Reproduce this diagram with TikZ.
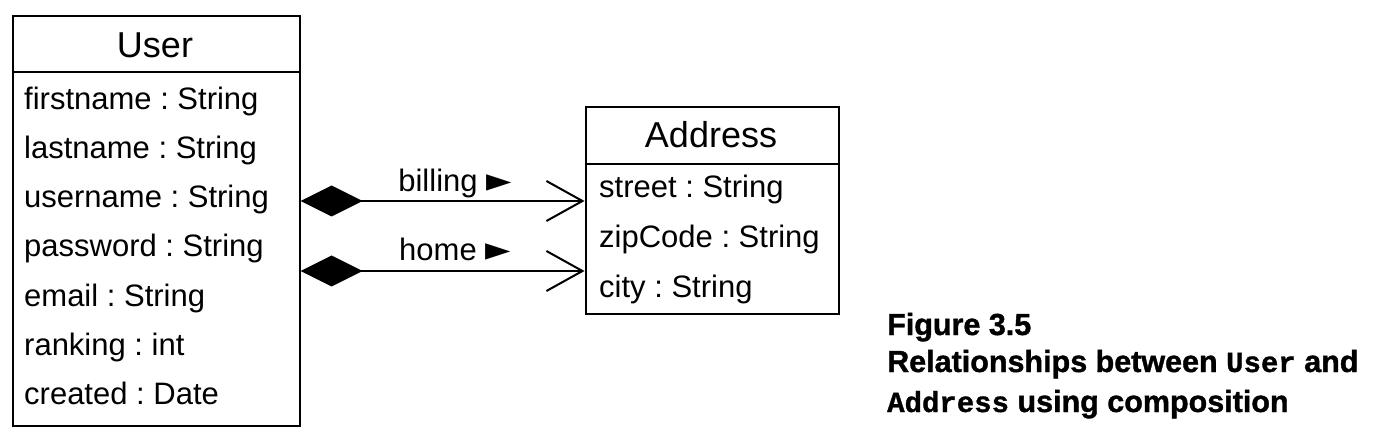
\documentclass[tikz,border=0pt]{standalone}
\usepackage{fontspec}
\setmainfont{Liberation Sans}
\newfontfamily\symfont{DejaVu Sans}
\newfontfamily\capfont[BoldFeatures={FakeBold=1.2}]{Liberation Sans}
\newfontfamily\capmono[BoldFeatures={FakeBold=1}]{Liberation Mono}
\usetikzlibrary{arrows.meta}
\frenchspacing
\begin{document}
\begin{tikzpicture}[x=1pt,y=-1pt,
  box/.style={draw, line width=2.2pt, anchor=north west, inner sep=0pt},
  attr/.style={anchor=base west, inner sep=0pt, font=\fontsize{31}{31}\selectfont},
  head/.style={anchor=base, inner sep=0pt, font=\fontsize{36}{36}\selectfont},
  lbl/.style={anchor=base, inner sep=0pt, font=\fontsize{31}{31}\selectfont},
  comp/.style={line width=2pt, {Diamond[length=62pt,width=31pt]}-{Straight Barb[length=36pt,width=40pt,line width=2pt]}},
  captext/.style={anchor=base west, inner sep=0pt, font=\capfont\bfseries\fontsize{30.5}{30.5}\selectfont},
]
\useasboundingbox (0,0) rectangle (1384,438);
% User class
\node[box, minimum width=287pt, minimum height=410pt] (user) at (11.5,15) {};
\draw[line width=2.2pt] (user.west |- 0,72) -- (user.east |- 0,72);
\node[head] (uname) at (155,58) {User};
\node[attr] (u1) at (24,110) {firstname : String};
\node[attr] (u2) at (24,159) {lastname : String};
\node[attr] (u3) at (24,208) {username : String};
\node[attr] (u4) at (24,257) {password : String};
\node[attr] (u5) at (24,306) {email : String};
\node[attr] (u6) at (24,355) {ranking : int};
\node[attr] (u7) at (24,404) {created : Date};
% Address class
\node[box, minimum width=253pt, minimum height=207pt] (addr) at (584.5,106) {};
\draw[line width=2.2pt] (addr.west |- 0,164) -- (addr.east |- 0,164);
\node[head] (aname) at (711,148) {Address};
\node[attr] (a1) at (599,198) {street : String};
\node[attr] (a2) at (599,248) {zipCode : String};
\node[attr] (a3) at (599,298) {city : String};
% compositions
\draw[comp] (user.east |- 0,201) -- (addr.west |- 0,201);
\draw[comp] (user.east |- 0,271) -- (addr.west |- 0,271);
\node[lbl] (l1) at (455,192) {billing {\symfont\fontsize{33}{33}\selectfont ►}};
\node[lbl] (l2) at (455,261) {home {\symfont\fontsize{33}{33}\selectfont ►}};
% caption
\node[captext] (c1) at (887,335) {Figure 3.5};
\node[captext] (c2) at (887,372) {Relationships between {\capmono\bfseries\fontsize{29}{29}\selectfont User} and};
\node[captext] (c3) at (887,412) {{\capmono\bfseries\fontsize{29}{29}\selectfont Address} using composition};
\end{tikzpicture}
\end{document}
